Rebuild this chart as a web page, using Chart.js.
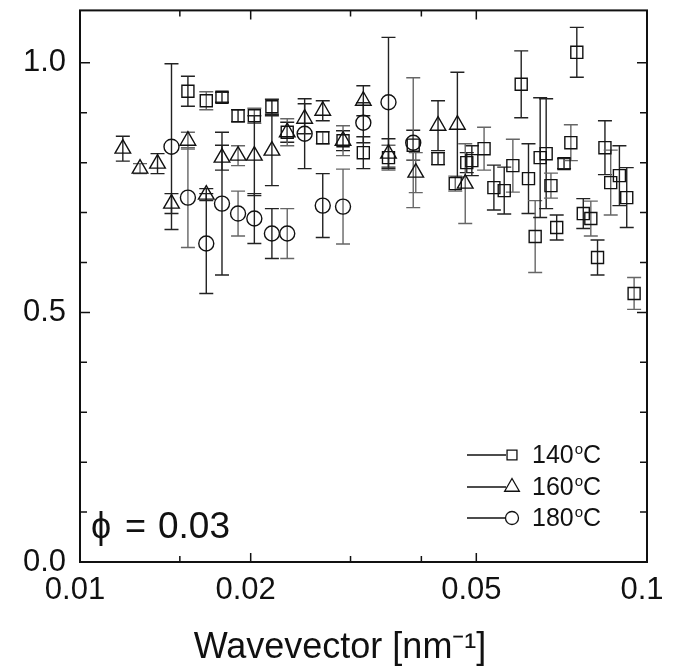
<!DOCTYPE html>
<html>
<head>
<meta charset="utf-8">
<script src="https://cdn.jsdelivr.net/npm/chart.js@4.4.0/dist/chart.umd.min.js"></script>
<style>
  body { margin: 0; background: #fff; }
</style>
</head>
<body>
<canvas id="chart" width="681" height="670"></canvas>
<script>
// 140 C - squares
const q140 = [0.0155, 0.0167, 0.0178, 0.0190, 0.0203, 0.0218, 0.0232, 0.0268, 0.0291, 0.0316, 0.0350, 0.0387, 0.0428, 0.0459, 0.0481, 0.0491, 0.0516, 0.0537, 0.0560, 0.0580, 0.0600, 0.0618, 0.0635, 0.0648, 0.0664, 0.0677, 0.0693, 0.0714, 0.0734, 0.0752, 0.0772, 0.0796, 0.0818, 0.0843, 0.0863, 0.0894, 0.0921, 0.0949];
const s140 = [0.943, 0.924, 0.931, 0.894, 0.894, 0.912, 0.861, 0.850, 0.844, 0.820, 0.810, 0.835, 0.808, 0.758, 0.800, 0.804, 0.828, 0.750, 0.744, 0.794, 0.957, 0.768, 0.652, 0.810, 0.818, 0.754, 0.670, 0.798, 0.840, 1.021, 0.698, 0.688, 0.610, 0.830, 0.760, 0.774, 0.730, 0.538];
const e140 = [0.030, 0.018, 0.010, 0.012, 0.015, 0.015, 0.020, 0.012, 0.020, 0.032, 0.025, 0.030, 0.012, 0.015, 0.020, 0.030, 0.043, 0.045, 0.047, 0.053, 0.067, 0.070, 0.072, 0.120, 0.110, 0.025, 0.025, 0.010, 0.036, 0.050, 0.030, 0.035, 0.035, 0.054, 0.065, 0.060, 0.060, 0.032];

// 160 C - triangles
const q160 = [0.0119, 0.01276, 0.0137, 0.0145, 0.0155, 0.0167, 0.0178, 0.0190, 0.0203, 0.0218, 0.0232, 0.0249, 0.0268, 0.0291, 0.0316, 0.0350, 0.0391, 0.0428, 0.0463, 0.0478];
const s160 = [0.828, 0.788, 0.798, 0.718, 0.844, 0.736, 0.810, 0.814, 0.814, 0.824, 0.861, 0.888, 0.904, 0.844, 0.924, 0.818, 0.780, 0.874, 0.876, 0.758];
const e160 = [0.025, 0.010, 0.020, 0.020, 0.017, 0.012, 0.025, 0.020, 0.080, 0.070, 0.027, 0.030, 0.020, 0.030, 0.030, 0.030, 0.040, 0.050, 0.105, 0.080];

// 180 C - circles
const q180 = [0.0145, 0.0155, 0.0167, 0.0178, 0.0190, 0.0203, 0.0218, 0.0232, 0.0249, 0.0268, 0.0291, 0.0316, 0.0350, 0.0387];
const s180 = [0.832, 0.730, 0.638, 0.718, 0.698, 0.688, 0.658, 0.658, 0.858, 0.714, 0.712, 0.880, 0.921, 0.840];
const e180 = [0.166, 0.100, 0.100, 0.143, 0.045, 0.050, 0.050, 0.050, 0.070, 0.064, 0.075, 0.040, 0.130, 0.130];

const seriesNames = ["140", "160", "180"];
const xTickLabels = [0.01, 0.02, 0.05, 0.1];
const xMinorTicks = [0.015, 0.03, 0.04];
const yTickLabels = [0.0, 0.5, 1.0];
const yMinorTicks = [0.1, 0.2, 0.3, 0.4, 0.6, 0.7, 0.8, 0.9];
const xTitle = "Wavevector [nm\u207B\u00B9]";

const FONT = "'Liberation Sans', Arial, sans-serif";

function pts(xs, ys) {
  return xs.map((x, i) => ({ x: x, y: ys[i] }));
}

// error bars, frame, inside ticks, legend, phi label and axis title
const decorPlugin = {
  id: "decor",
  beforeDatasetsDraw(chart) {
    const ctx = chart.ctx;
    const yS = chart.scales.y;
    ctx.save();
    chart.data.datasets.forEach((ds, di) => {
      const meta = chart.getDatasetMeta(di);
      ds.errors.forEach((e, i) => {
        const p = meta.data[i];
        const v = ds.data[i].y;
        const t = yS.getPixelForValue(v + e);
        const b = yS.getPixelForValue(v - e);
        ctx.strokeStyle = i % 3 === 1 ? "#666" : "#222";
        ctx.lineWidth = 1.4;
        ctx.beginPath();
        ctx.moveTo(p.x, t); ctx.lineTo(p.x, b);
        ctx.moveTo(p.x - 7, t); ctx.lineTo(p.x + 7, t);
        ctx.moveTo(p.x - 7, b); ctx.lineTo(p.x + 7, b);
        ctx.stroke();
      });
    });
    ctx.restore();
  },
  afterDraw(chart) {
    const ctx = chart.ctx;
    const a = chart.chartArea;
    const xS = chart.scales.x, yS = chart.scales.y;
    ctx.save();
    ctx.strokeStyle = "#111";
    ctx.lineWidth = 2;
    ctx.strokeRect(a.left, a.top, a.right - a.left, a.bottom - a.top);
    ctx.lineWidth = 1.5;
    ctx.beginPath();
    xTickLabels.forEach(v => {
      const x = xS.getPixelForValue(v);
      ctx.moveTo(x, a.bottom); ctx.lineTo(x, a.bottom - 9);
      ctx.moveTo(x, a.top); ctx.lineTo(x, a.top + 9);
    });
    xMinorTicks.forEach(v => {
      const x = xS.getPixelForValue(v);
      ctx.moveTo(x, a.bottom); ctx.lineTo(x, a.bottom - 6);
      ctx.moveTo(x, a.top); ctx.lineTo(x, a.top + 6);
    });
    yTickLabels.forEach(v => {
      const y = yS.getPixelForValue(v);
      ctx.moveTo(a.left, y); ctx.lineTo(a.left + 10, y);
      ctx.moveTo(a.right, y); ctx.lineTo(a.right - 10, y);
    });
    yMinorTicks.forEach(v => {
      const y = yS.getPixelForValue(v);
      ctx.moveTo(a.left, y); ctx.lineTo(a.left + 7, y);
      ctx.moveTo(a.right, y); ctx.lineTo(a.right - 7, y);
    });
    ctx.stroke();

    // legend
    const rows = [455, 487, 518];
    chart.data.datasets.forEach((ds, i) => {
      const y = rows[i];
      ctx.strokeStyle = "#111";
      ctx.lineWidth = 1.5;
      ctx.beginPath();
      ctx.moveTo(467, y); ctx.lineTo(506, y);
      ctx.stroke();
      ctx.fillStyle = "#fff";
      ctx.lineWidth = 1.3;
      Chart.helpers.drawPoint(ctx, {
        pointStyle: ds.pointStyle, radius: ds.legendRadius, borderWidth: 1.3, rotation: 0
      }, 512, y);
      ctx.fillStyle = "#111";
      ctx.font = "25px " + FONT;
      ctx.textBaseline = "middle";
      ctx.textAlign = "left";
      ctx.fillText(seriesNames[i], 532, y + 1);
      const w = ctx.measureText(seriesNames[i]).width;
      ctx.font = "15px " + FONT;
      ctx.fillText("o", 532 + w + 1, y - 5);
      const w2 = ctx.measureText("o").width;
      ctx.font = "25px " + FONT;
      ctx.fillText("C", 532 + w + w2 + 1, y + 1);
    });

    // phi = 0.03, spaced like the original
    ctx.fillStyle = "#111";
    ctx.textBaseline = "alphabetic";
    ctx.font = "36px " + FONT;
    ctx.fillText("\u03D5", 91, 538);
    ctx.fillText("=", 125, 538);
    ctx.font = "37px " + FONT;
    ctx.fillText("0.03", 158, 538);

    // x axis title, centred on the figure like the original
    ctx.textAlign = "center";
    ctx.font = "36px " + FONT;
    ctx.fillText(xTitle, 340, 658);
    ctx.restore();
  }
};

const ctx = document.getElementById("chart");

new Chart(ctx, {
  type: "scatter",
  data: {
    datasets: [
      {
        label: "140°C", data: pts(q140, s140), errors: e140,
        pointStyle: "rect", pointRadius: 8.5, legendRadius: 7, pointBorderWidth: 1.4
      },
      {
        label: "160°C", data: pts(q160, s160), errors: e160,
        pointStyle: "triangle", pointRadius: 9, legendRadius: 8.5, pointBorderWidth: 1.4
      },
      {
        label: "180°C", data: pts(q180, s180), errors: e180,
        pointStyle: "circle", pointRadius: 7.5, legendRadius: 6.5, pointBorderWidth: 1.4
      }
    ].map(d => Object.assign(d, {
      showLine: false,
      borderColor: "#111",
      backgroundColor: "rgba(255,255,255,0)",
      pointBorderColor: "#111",
      pointBackgroundColor: "rgba(255,255,255,0)"
    }))
  },
  options: {
    responsive: false,
    animation: false,
    layout: { padding: { top: 9, right: 34, left: 0, bottom: 0 } },
    plugins: {
      legend: { display: false },
      tooltip: { enabled: false }
    },
    scales: {
      x: {
        type: "logarithmic",
        min: 0.01,
        max: 0.1,
        afterFit: (s) => { s.height = 108; s.paddingLeft = 0; s.paddingRight = 0; },
        grid: { display: false, drawTicks: false },
        border: { display: false },
        ticks: {
          autoSkip: false,
          maxRotation: 0,
          padding: 10,
          labelOffset: -5,
          color: "#111",
          font: { size: 31, family: FONT },
          callback: function (v) {
            const hit = xTickLabels.find(t => Math.abs(t - v) < 1e-9);
            return hit === undefined ? "" : String(hit);
          }
        },
        title: { display: false }
      },
      y: {
        min: 0,
        max: 1.105,
        afterFit: (s) => { s.width = 80; s.paddingTop = 0; s.paddingBottom = 0; },
        grid: { display: false, drawTicks: false },
        border: { display: false },
        ticks: {
          stepSize: 0.5,
          padding: 14,
          color: "#111",
          font: { size: 31, family: FONT },
          callback: function (v) {
            const hit = yTickLabels.find(t => Math.abs(t - v) < 1e-9);
            return hit === undefined ? "" : hit.toFixed(1);
          }
        }
      }
    }
  },
  plugins: [decorPlugin]
});
</script>
</body>
</html>
